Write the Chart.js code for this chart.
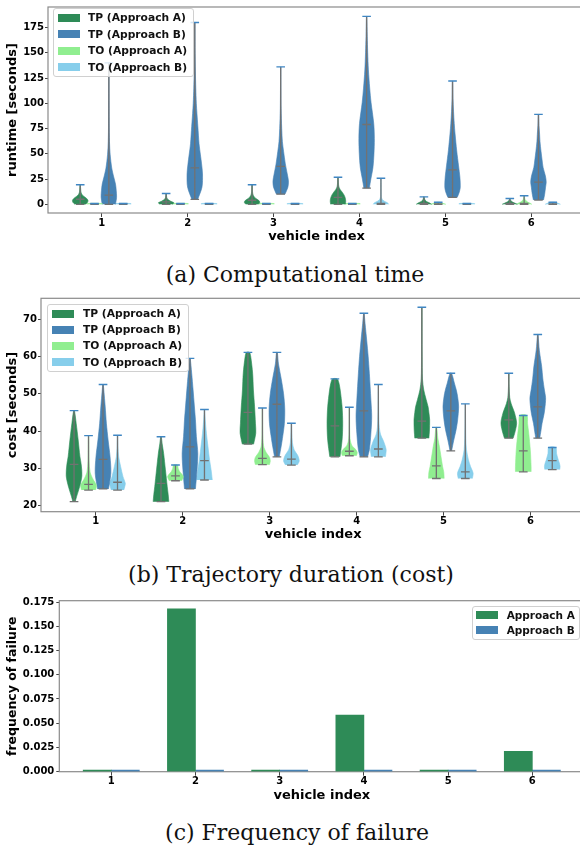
<!DOCTYPE html>
<html>
<head>
<meta charset="utf-8">
<script src="https://cdn.jsdelivr.net/npm/chart.js@4.4.1/dist/chart.umd.min.js"></script>
<style>
  html, body { margin: 0; padding: 0; background: #fff; }
  body { width: 580px; height: 851px; position: relative; overflow: hidden; font-family: "DejaVu Sans", sans-serif; }
  canvas { position: absolute; left: 0; }
  .caption { position: absolute; width: 400px; text-align: center; font-family: "DejaVu Serif", serif; font-size: 22px; line-height: 28px; color: #111; }
  .legend { position: absolute; box-sizing: border-box; background: rgba(255,255,255,0.8); border: 1px solid #d0d0d0; border-radius: 3px; font-weight: bold; color: #111; }
  .legend div { display: flex; align-items: center; white-space: nowrap; }
  .legend span { display: inline-block; width: 22px; height: 8px; flex: none; }
</style>
</head>
<body>
<canvas id="runtime" width="590" height="244" style="top:0"></canvas>
<div class="caption" style="left:95px;top:261px">(a) Computational time</div>
<canvas id="cost" width="590" height="252" style="top:290px"></canvas>
<div class="caption" style="left:91px;top:561px">(b) Trajectory duration (cost)</div>
<canvas id="failure" width="590" height="218" style="top:585px"></canvas>
<div class="caption" style="left:97px;top:819px">(c) Frequency of failure</div>
<script>
// vehicles on the x axis
var vehicles = [1, 2, 3, 4, 5, 6];

// violins: [min, middle, max, [[value, relative width], ...]]
var runtimeTPA = [
  [0, 5, 19.4, [[0,.7],[2,.95],[4,1],[6,.8],[8,.45],[10,.2],[13,.08],[19.4,.02]]],
  [0, 2.5, 10.7, [[0,.8],[1.5,1],[3,.6],[5,.2],[7,.07],[10.7,.02]]],
  [0, 4, 19.4, [[0,.8],[2,1],[4,.85],[6,.45],[9,.15],[13,.05],[19.4,.02]]],
  [0, 6.8, 26.8, [[0,.95],[3,1],[6,.95],[9,.8],[12,.55],[15,.25],[18,.1],[22,.05],[26.8,.02]]],
  [0, 1, 7.4, [[0,1],[1.5,.7],[3,.3],[5,.1],[7.4,.02]]],
  [0, 1, 5.8, [[0,1],[1,.7],[2.5,.3],[4,.1],[5.8,.02]]]
];
var runtimeTOA = [
  [0, 0.4, 0.8, [[0,1],[0.8,1]]],
  [0, 0.4, 0.8, [[0,1],[0.8,1]]],
  [0, 0.4, 0.8, [[0,1],[0.8,1]]],
  [0, 0.4, 0.8, [[0,1],[0.8,1]]],
  [0, 0.5, 2, [[0,1],[1,.6],[2,.2]]],
  [0, 1, 8.4, [[0,1],[1,.8],[2,.5],[3.5,.25],[5,.1],[8.4,.02]]]
];
var runtimeTPB = [
  [0, 9, 140, [[0,.86],[7,1],[14,.95],[20,.86],[28,.6],[36,.37],[49,.17],[62,.08],[80,.04],[110,.02],[140,.01]]],
  [4.8, 36, 180, [[4.8,.37],[17,.93],[30,1],[40,.88],[49,.73],[60,.55],[77,.4],[90,.28],[100,.2],[115,.13],[131,.08],[155,.03],[180,.01]]],
  [10, 37.5, 136, [[10,.55],[17,.93],[23,1],[30,.85],[40,.6],[52,.38],[62,.22],[75,.13],[95,.05],[136,.01]]],
  [16, 79, 186, [[16,.35],[25,.55],[36.5,.82],[50,.95],[65,1],[80,.92],[101,.57],[115,.4],[133,.23],[150,.14],[166,.08],[186,.02]]],
  [6.8, 34, 122, [[6.8,.6],[12,.87],[17,1],[27,.95],[38,.78],[53,.54],[69.5,.33],[80,.22],[92,.13],[105,.06],[122,.02]]],
  [4.2, 22, 89, [[4.2,.65],[10,.8],[17,.92],[22,1],[28,.9],[36.5,.6],[45,.45],[52.5,.33],[62,.2],[69,.15],[78,.07],[89,.02]]]
];
var runtimeTOB = [
  [0, 0.4, 0.8, [[0,1],[0.8,1]]],
  [0, 0.4, 0.8, [[0,1],[0.8,1]]],
  [0, 0.4, 0.8, [[0,1],[0.8,1]]],
  [0, 1, 25.8, [[0,1],[1.5,.85],[3,.45],[5,.15],[8,.05],[25.8,.01]]],
  [0, 0.4, 0.8, [[0,1],[0.8,1]]],
  [0, 0.5, 2, [[0,1],[1,.7],[2,.3]]]
];

var costTPA = [
  [21.1, 31.1, 45.5, [[21.1,.15],[22.4,.32],[25,.7],[28,1],[31,.92],[33.2,.75],[37.6,.53],[42,.28],[45.5,.05]]],
  [21.1, 26, 38.5, [[21.1,1],[23,.92],[25.1,.8],[29.6,.57],[34,.34],[36.6,.15],[38.5,.04]]],
  [36.5, 45, 61.1, [[36.5,.72],[39.4,1],[42.1,.96],[46.5,.85],[51,.7],[55.5,.6],[59.9,.36],[61.1,.2]]],
  [33.1, 41.4, 54, [[33.1,.65],[37.6,.92],[42,1],[46.5,.92],[51,.68],[53,.5],[54,.3]]],
  [38.1, 42.7, 73.2, [[38.1,.9],[40,.97],[43,1],[45,.9],[46.5,.8],[48.5,.55],[51,.25],[54,.08],[60,.04],[73.2,.02]]],
  [38.1, 43, 55.5, [[38.1,.55],[39.4,.75],[42.1,1],[44.8,.75],[46.5,.45],[47.4,.3],[49,.12],[52,.04],[55.5,.02]]]
];
var costTOA = [
  [24.2, 25.7, 38.8, [[24.2,.9],[25.5,1],[27,.6],[29,.2],[32,.07],[38.8,.02]]],
  [26.7, 28, 30.9, [[26.7,.8],[27.8,1],[28.5,.8],[29.1,.55],[30,.35],[30.9,.25]]],
  [31, 32.7, 46.2, [[31,.9],[32,1],[33,.9],[34.2,.5],[36,.15],[40,.04],[46.2,.02]]],
  [33.4, 34.6, 46.4, [[33.4,.9],[34.3,1],[35.2,.75],[36.2,.3],[38,.08],[42,.03],[46.4,.02]]],
  [27.3, 30.7, 41, [[27.3,1],[29,.95],[30.5,.8],[33.1,.6],[35.8,.4],[38,.2],[41,.05]]],
  [29.1, 34.7, 44.2, [[29.1,1],[30.5,1],[34.9,.9],[39.4,.7],[42,.55],[44.2,.45]]]
];
var costTPB = [
  [24.5, 32.4, 52.5, [[24.5,.7],[28.7,1],[33.1,.9],[37.6,.65],[42.1,.43],[46.5,.28],[51,.1],[52.5,.03]]],
  [24.5, 35.8, 59.5, [[24.5,.7],[29.6,.9],[34,1],[38.5,.82],[43,.7],[47,.55],[51,.4],[55.5,.22],[59.5,.03]]],
  [33.1, 47.2, 61.1, [[33.1,.3],[36,.55],[38,.7],[42,.95],[46,1],[50,.85],[54,.55],[58,.2],[61.1,.05]]],
  [33.1, 45.4, 71.6, [[33.1,.47],[35,.7],[39.4,.9],[43.9,1],[48.3,.9],[55.5,.7],[60,.55],[64.4,.36],[68.9,.15],[71.6,.03]]],
  [34.7, 45.4, 55.5, [[34.7,.1],[37.6,.38],[40.3,.67],[43,.87],[46.5,1],[49.2,.87],[51,.7],[52.9,.45],[55.5,.1]]],
  [38.1, 46.5, 65.9, [[38.1,.25],[40,.4],[42.1,.55],[44.8,.82],[47.4,.97],[49,1],[51,.85],[54,.65],[57.3,.5],[61.7,.2],[65.9,.03]]]
];
var costTOB = [
  [24.2, 26.3, 38.9, [[24.2,.8],[25.3,.95],[26,1],[27.8,.7],[30.5,.4],[33.1,.15],[36,.05],[38.9,.02]]],
  [26.9, 32.1, 45.8, [[26.9,1],[29.6,.85],[32.3,.65],[35.8,.45],[39.4,.25],[43,.1],[45.8,.02]]],
  [30.9, 32.5, 42.1, [[30.9,.75],[32,1],[33.5,.8],[35,.35],[37,.12],[42.1,.02]]],
  [33.1, 35.2, 52.5, [[33.1,.9],[35,1],[36.5,.8],[37.6,.6],[39,.3],[41,.12],[45,.05],[52.5,.01]]],
  [27.3, 29.1, 47.3, [[27.3,.9],[28.7,1],[30.5,.67],[32.3,.4],[35,.15],[38,.07],[42,.04],[47.3,.01]]],
  [29.7, 32.1, 35.6, [[29.7,.95],[30.5,1],[31.5,.9],[32.2,.78],[34,.55],[35.6,.45]]]
];

var failA = [0, 0.168, 0, 0.0585, 0, 0.021];
var failB = [0, 0, 0, 0, 0, 0];

var runtimeTicks = [0, 25, 50, 75, 100, 125, 150, 175];
var costTicks = [20, 30, 40, 50, 60, 70];
var failTicks = [0, 0.025, 0.05, 0.075, 0.1, 0.125, 0.15, 0.175];

var FONT = '"DejaVu Sans", sans-serif';
var HALF = 0.09, CAP = 0.05;
var green = '#2e8b57', blue = '#4682b4', lightGreen = '#90ee90', skyBlue = '#87ceeb';
var violinLegend = [['TP (Approach A)', green], ['TP (Approach B)', blue], ['TO (Approach A)', lightGreen], ['TO (Approach B)', skyBlue]];

// draws the axes box
var frame = {
  id: 'frame',
  beforeDatasetsDraw: function(chart) {
    var a = chart.chartArea, ctx = chart.ctx;
    ctx.save();
    ctx.strokeStyle = '#8a8a8a';
    ctx.lineWidth = 1.2;
    ctx.strokeRect(a.left, a.top, a.right - a.left, a.bottom - a.top);
    ctx.restore();
  }
};

function violinShapes(list, color, off) {
  return list.map(function(v, i) {
    var c = vehicles[i] + off;
    var right = v[3].map(function(p) { return {x: c + p[1] * HALF, y: p[0]}; });
    var left = v[3].slice().reverse().map(function(p) { return {x: c - p[1] * HALF, y: p[0]}; });
    return {
      data: right.concat(left), fill: 'shape', backgroundColor: color, borderColor: color,
      borderWidth: 0.6, pointRadius: 0, tension: 0.3, order: 2
    };
  });
}

function violinLines(groups) {
  var gray = [], tops = [];
  groups.forEach(function(g) {
    g[0].forEach(function(v, i) {
      var c = vehicles[i] + g[1];
      gray.push({x: c, y: v[0]}, {x: c, y: v[2]}, {x: c, y: null});
      gray.push({x: c - CAP, y: v[0]}, {x: c + CAP, y: v[0]}, {x: c, y: null});
      gray.push({x: c - CAP, y: v[1]}, {x: c + CAP, y: v[1]}, {x: c, y: null});
      tops.push({x: c - CAP, y: v[2]}, {x: c + CAP, y: v[2]}, {x: c, y: null});
    });
  });
  return [
    {data: tops, borderColor: '#3f86c3', borderWidth: 1.4, pointRadius: 0, fill: false, tension: 0, order: 0},
    {data: gray, borderColor: '#727272', borderWidth: 1.3, pointRadius: 0, fill: false, tension: 0, order: 1}
  ];
}

function xAxis(min, max, h) {
  return {
    type: 'linear', min: min, max: max, offset: false,
    afterBuildTicks: function(s) { s.ticks = vehicles.map(function(v) { return {value: v}; }); },
    afterFit: function(s) { s.height = h; },
    grid: {display: true, drawOnChartArea: false, drawTicks: true, tickLength: 4, color: '#444', offset: false},
    border: {display: false},
    ticks: {color: '#000', font: {family: FONT, size: 10, weight: 'bold'}, padding: 0, maxRotation: 0, autoSkip: false},
    title: {display: true, text: 'vehicle index', color: '#000', font: {family: FONT, size: 13, weight: 'bold'}, padding: 0}
  };
}

function yAxis(min, max, w, ticks, label, size, fmt) {
  return {
    type: 'linear', min: min, max: max,
    afterBuildTicks: function(s) { s.ticks = ticks.map(function(v) { return {value: v}; }); },
    afterFit: function(s) { s.width = w; },
    grid: {display: true, drawOnChartArea: false, drawTicks: true, tickLength: 3, color: '#444'},
    border: {display: false},
    ticks: {color: '#000', font: {family: FONT, size: 10, weight: 'bold'}, padding: 1, autoSkip: false,
      callback: fmt || function(v) { return String(v); }},
    title: {display: true, text: label, color: '#000', font: {family: FONT, size: size, weight: 'bold'}, padding: {top: 5, bottom: 0}}
  };
}

function baseOptions(pad) {
  return {
    responsive: false, animation: false, events: [],
    layout: {padding: pad},
    plugins: {legend: {display: false}, tooltip: {enabled: false}}
  };
}

function violinChart(id, series, yopt, xr, xh, pad) {
  var offsets = [-0.25, -1 / 12, 1 / 12, 0.25];
  var colors = [green, lightGreen, blue, skyBlue];
  var datasets = violinLines(series.map(function(s, k) { return [s, offsets[k]]; }));
  series.forEach(function(s, k) { datasets = datasets.concat(violinShapes(s, colors[k], offsets[k])); });
  var opts = baseOptions(pad);
  opts.scales = {x: xAxis(xr[0], xr[1], xh), y: yopt};
  new Chart(document.getElementById(id), {type: 'line', data: {datasets: datasets}, options: opts, plugins: [frame]});
}

violinChart('runtime', [runtimeTPA, runtimeTOA, runtimeTPB, runtimeTOB],
  yAxis(-8.6, 195.3, 48, runtimeTicks, 'runtime [seconds]', 13),
  [0.375, 6.625], 31, {left: 0, top: 3, right: 5, bottom: 0});

violinChart('cost', [costTPA, costTOA, costTPB, costTOB],
  yAxis(18.4, 75.6, 41, costTicks, 'cost [seconds]', 13),
  [0.37, 6.63], 30.3, {left: 0, top: 8.3, right: 4.7, bottom: 0});

var failOpts = baseOptions({left: 0, top: 15.7, right: 5.7, bottom: 0});
failOpts.scales = {
  x: xAxis(0.383, 6.617, 31.3),
  y: yAxis(0, 0.1764, 59.3, failTicks, 'frequency of failure', 12.5, function(v) { return v.toFixed(3); })
};
failOpts.scales.y.ticks.padding = 2;
new Chart(document.getElementById('failure'), {
  type: 'bar',
  data: {datasets: [
    {label: 'Approach A', data: vehicles.map(function(v, i) { return {x: v - 1 / 6, y: failA[i]}; }),
     backgroundColor: green, grouped: false, categoryPercentage: 1, barPercentage: 1, minBarLength: 1.5, borderWidth: 0},
    {label: 'Approach B', data: vehicles.map(function(v, i) { return {x: v + 1 / 6, y: failB[i]}; }),
     backgroundColor: blue, grouped: false, categoryPercentage: 1, barPercentage: 1, minBarLength: 1.5, borderWidth: 0}
  ]},
  options: failOpts,
  plugins: [frame]
});

function legend(items, box) {
  var el = document.createElement('div');
  el.className = 'legend';
  el.style.left = box.left + 'px';
  el.style.top = box.top + 'px';
  el.style.width = box.width + 'px';
  el.style.height = box.height + 'px';
  el.style.padding = box.padTop + 'px 0 0 ' + box.padLeft + 'px';
  el.style.fontSize = box.font + 'px';
  items.forEach(function(it) {
    var row = document.createElement('div');
    row.style.height = box.row + 'px';
    var sw = document.createElement('span');
    sw.style.background = it[1];
    sw.style.marginRight = box.gap + 'px';
    row.appendChild(sw);
    row.appendChild(document.createTextNode(it[0]));
    el.appendChild(row);
  });
  document.body.appendChild(el);
}

legend(violinLegend, {left: 53, top: 8, width: 141, height: 69, padTop: 0.5, padLeft: 4, row: 16.5, gap: 8, font: 10.7});
legend(violinLegend, {left: 47, top: 304, width: 142, height: 68, padTop: 0.5, padLeft: 4, row: 16.2, gap: 9, font: 10.7});
legend([['Approach A', green], ['Approach B', blue]],
  {left: 471.7, top: 605.7, width: 108, height: 34.5, padTop: 0, padLeft: 3.3, row: 15.7, gap: 8.7, font: 10.5});
</script>
</body>
</html>
